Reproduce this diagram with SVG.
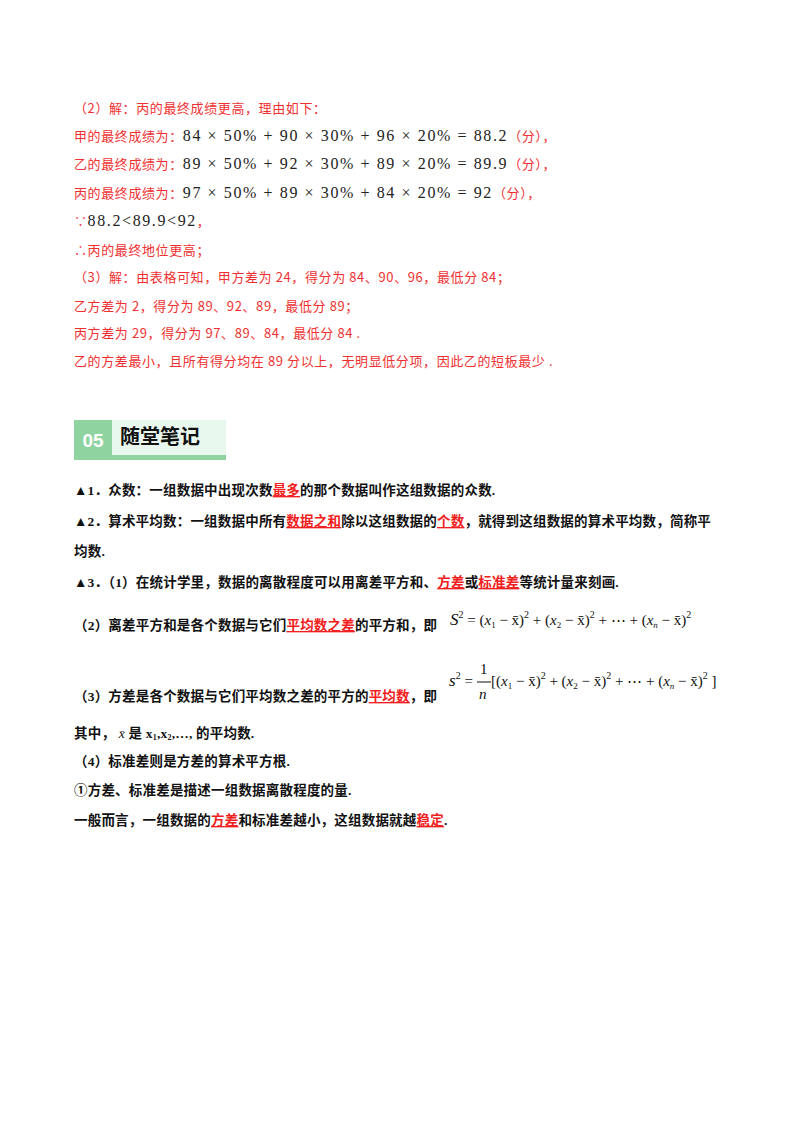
<svg xmlns="http://www.w3.org/2000/svg" width="800" height="1132" viewBox="0 0 800 1132">
<style>
.r{font-family:"Noto Sans CJK SC",sans-serif;font-size:13px;fill:#f03030;letter-spacing:0.6px}
.n{font-family:"Liberation Serif",serif;font-size:16px;fill:#222;letter-spacing:1.6px}
.b{font-family:"Liberation Serif","Noto Sans CJK SC",serif;font-size:13.5px;font-weight:bold;fill:#111;letter-spacing:0.2px}
.h{fill:#f02020;text-decoration:underline}
.m{font-family:"Liberation Serif",serif;font-size:15px;fill:#111}
.i{font-style:italic}
</style>
<rect width="800" height="1132" fill="#fff"/>
<g id="solution">
<text class="r" x="74" y="113">（2）解：丙的最终成绩更高，理由如下：</text>
<text class="r" x="74" y="141">甲的最终成绩为：<tspan class="n">84 × 50% + 90 × 30% + 96 × 20% = 88.2</tspan>（分），</text>
<text class="r" x="74" y="169">乙的最终成绩为：<tspan class="n">89 × 50% + 92 × 30% + 89 × 20% = 89.9</tspan>（分），</text>
<text class="r" x="74" y="198">丙的最终成绩为：<tspan class="n">97 × 50% + 89 × 30% + 84 × 20% = 92</tspan>（分），</text>
<text class="r" x="74" y="226">∵<tspan class="n">88.2&lt;89.9&lt;92</tspan>，</text>
<text class="r" x="74" y="255">∴丙的最终地位更高；</text>
<text class="r" x="74" y="282">（3）解：由表格可知，甲方差为 24，得分为 84、90、96，最低分 84；</text>
<text class="r" x="74" y="311">乙方差为 2，得分为 89、92、89，最低分 89；</text>
<text class="r" x="74" y="338">丙方差为 29，得分为 97、89、84，最低分 84 .</text>
<text class="r" x="74" y="366">乙的方差最小，且所有得分均在 89 分以上，无明显低分项，因此乙的短板最少 .</text>
</g>
<g id="header">
<rect x="74" y="420" width="152" height="40" fill="#e9f8ee"/>
<rect x="74" y="420" width="38" height="40" fill="#8fd3a0"/>
<rect x="74" y="455" width="152" height="5" fill="#8fd3a0"/>
<text x="93" y="447" text-anchor="middle" font-family="Liberation Sans,sans-serif" font-weight="bold" font-size="19" fill="#fff">05</text>
<text x="120" y="444" font-family="Noto Sans CJK SC,sans-serif" font-weight="bold" font-size="20" fill="#111">随堂笔记</text>
</g>
<g id="notes">
<text class="b" x="74" y="495">▲1．众数：一组数据中出现次数<tspan class="h">最多</tspan>的那个数据叫作这组数据的众数.</text>
<text class="b" x="74" y="526">▲2．算术平均数：一组数据中所有<tspan class="h">数据之和</tspan>除以这组数据的<tspan class="h">个数</tspan>，就得到这组数据的算术平均数，简称平</text>
<text class="b" x="74" y="556">均数.</text>
<text class="b" x="74" y="587">▲3．（1）在统计学里，数据的离散程度可以用离差平方和、<tspan class="h">方差</tspan>或<tspan class="h">标准差</tspan>等统计量来刻画.</text>
<text class="b" x="74" y="630">（2）离差平方和是各个数据与它们<tspan class="h">平均数之差</tspan>的平方和，即</text>
<text class="m" x="450" y="625"><tspan class="i" font-size="17">S</tspan><tspan font-size="10" dy="-7">2</tspan><tspan dy="7"> = (</tspan><tspan class="i">x</tspan><tspan font-size="9" dy="3">1</tspan><tspan dy="-3"> − x̄)</tspan><tspan font-size="10" dy="-7">2</tspan><tspan dy="7"> + (</tspan><tspan class="i">x</tspan><tspan font-size="9" dy="3">2</tspan><tspan dy="-3"> − x̄)</tspan><tspan font-size="10" dy="-7">2</tspan><tspan dy="7"> + ⋯ + (</tspan><tspan class="i">x</tspan><tspan font-size="9" dy="3" class="i">n</tspan><tspan dy="-3"> − x̄)</tspan><tspan font-size="10" dy="-7">2</tspan></text>
<text class="b" x="74" y="701">（3）方差是各个数据与它们平均数之差的平方的<tspan class="h">平均数</tspan>，即</text>
<text class="m" x="449" y="686"><tspan class="i" font-size="17">s</tspan><tspan font-size="10" dy="-7">2</tspan><tspan dy="7"> =</tspan></text>
<text class="m" x="480" y="674" font-size="15">1</text>
<line x1="477" y1="682" x2="491" y2="682" stroke="#111" stroke-width="1"/>
<text class="m i" x="479" y="699">n</text>
<text class="m" x="491" y="686">[(<tspan class="i">x</tspan><tspan font-size="9" dy="3">1</tspan><tspan dy="-3"> − x̄)</tspan><tspan font-size="10" dy="-7">2</tspan><tspan dy="7"> + (</tspan><tspan class="i">x</tspan><tspan font-size="9" dy="3">2</tspan><tspan dy="-3"> − x̄)</tspan><tspan font-size="10" dy="-7">2</tspan><tspan dy="7"> + ⋯ + (</tspan><tspan class="i">x</tspan><tspan font-size="9" dy="3" class="i">n</tspan><tspan dy="-3"> − x̄)</tspan><tspan font-size="10" dy="-7">2</tspan><tspan dy="7"> ]</tspan></text>
<text class="b" x="74" y="738">其中，<tspan font-weight="normal" font-style="italic"> x̄ </tspan>是 x<tspan font-size="8" dy="2">1</tspan><tspan dy="-2">,x</tspan><tspan font-size="8" dy="2">2</tspan><tspan dy="-2">,…,    的平均数.</tspan></text>
<text class="b" x="74" y="766">（4）标准差则是方差的算术平方根.</text>
<text class="b" x="74" y="795">①方差、标准差是描述一组数据离散程度的量.</text>
<text class="b" x="74" y="825">一般而言，一组数据的<tspan class="h">方差</tspan>和标准差越小，这组数据就越<tspan class="h">稳定</tspan>.</text>
</g>
</svg>
